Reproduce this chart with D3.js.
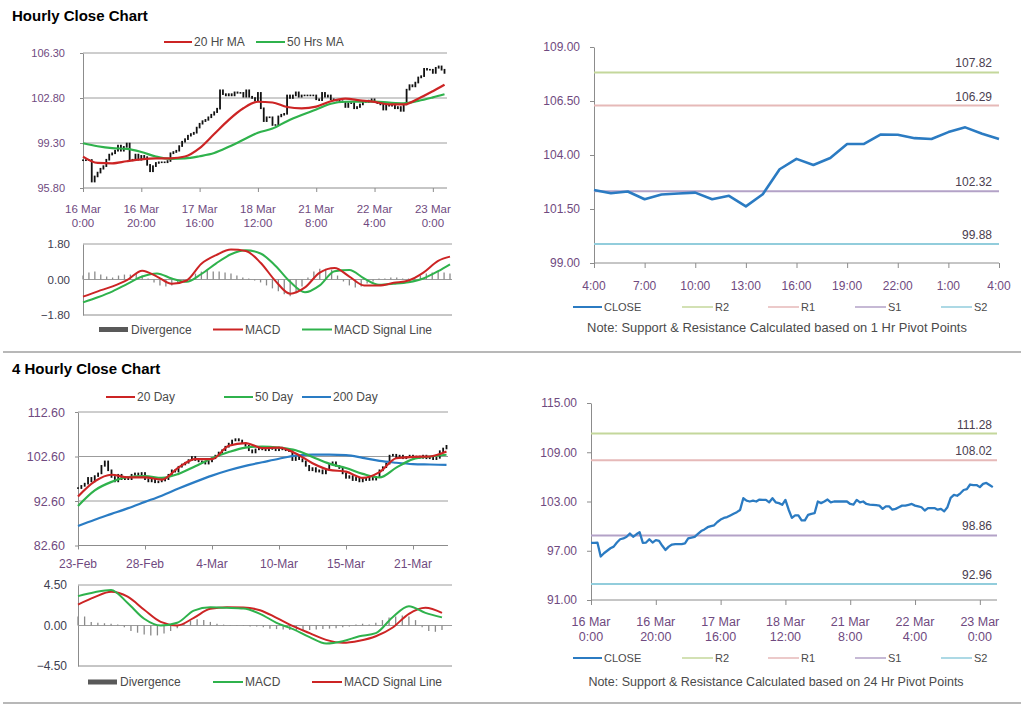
<!DOCTYPE html>
<html><head><meta charset="utf-8">
<script src="https://cdn.jsdelivr.net/npm/d3@7"></script>
<style>body{margin:0;background:#fff;} svg{display:block;font-family:"Liberation Sans",Arial,sans-serif;}</style>
</head><body><svg id="c" width="1024" height="706"></svg>
<script>
// ---------------- DATA ----------------
// Hourly closes, 16 Mar 0:00 -> 23 Mar (125 hourly bars)
const hourlyClose = [
97.96,97.97,97.98,96.3,96.7,97.0,97.3,97.5,98.0,98.4,
98.5,98.7,99.1,98.7,99.0,99.26,97.95,98.0,98.4,98.0,
98.3,98.2,97.6,97.1,97.5,97.75,97.8,97.8,97.8,97.9,
98.5,98.6,98.7,99.06,99.4,99.6,99.87,100.0,100.1,100.5,
100.8,101.0,101.1,101.3,101.5,101.7,101.97,103.4,103.1,103.0,
103.1,103.0,103.24,103.2,103.2,102.9,103.4,102.9,102.8,102.6,
103.2,102.0,101.0,101.3,101.3,100.7,100.7,101.37,101.5,101.57,
103.0,102.8,103.0,103.24,102.9,103.0,103.0,103.0,103.0,103.0,
102.7,102.63,103.2,102.9,103.0,102.7,102.63,102.6,102.55,102.5,
102.1,102.4,102.4,102.0,102.1,102.3,102.5,102.5,102.6,102.7,
102.5,102.4,102.3,101.9,102.2,102.2,102.2,102.0,102.1,101.8,
102.3,103.45,103.8,103.7,104.0,104.4,104.5,105.07,105.0,105.0,
104.75,105.15,105.26,105.0,104.75];
const hourlyTickIdx = [0,20,40,60,80,100,120];
const hourlyTickLabels = ["16 Mar\n0:00","16 Mar\n20:00","17 Mar\n16:00","18 Mar\n12:00","21 Mar\n8:00","22 Mar\n4:00","23 Mar\n0:00"];

const hourlyMaIdx = [0,5,10,15,20,25,30,35,40,45,50,55,60,65,70,75,80,85,90,95,100,105,110,115,120,124];
const ma20Hr = [98.24,97.75,97.72,97.88,98.02,98.1,98.11,98.25,98.9,100.0,101.1,102.0,102.51,102.45,102.1,102.0,102.13,102.55,102.75,102.62,102.5,102.3,102.3,102.75,103.33,103.84];
const ma50Hr = [99.28,99.05,98.9,98.84,98.6,98.25,98.07,98.1,98.27,98.52,99.0,99.55,100.1,100.42,101.0,101.48,101.9,102.35,102.51,102.52,102.52,102.44,102.39,102.58,102.85,103.09];
const hourlyMacd = [-0.87,-0.6,-0.35,-0.02,0.45,0.15,-0.22,-0.05,0.8,1.24,1.52,1.45,0.85,-0.07,-0.72,-0.4,0.35,0.58,0.15,-0.3,-0.3,-0.17,-0.05,0.35,0.95,1.16];
const hourlySignal = [-1.16,-0.9,-0.6,-0.22,0.15,0.31,0.05,-0.12,0.28,0.82,1.28,1.48,1.32,0.7,-0.12,-0.65,-0.3,0.42,0.48,0.05,-0.27,-0.22,-0.14,0.05,0.42,0.77];
// divergence every 2 hourly bars
const hourlyDiv = [0.2,0.35,0.4,0.25,0.15,0.1,0.2,0.25,0.25,0.3,0.2,0.05,-0.15,-0.3,-0.35,-0.3,-0.2,-0.05,0.1,0.3,0.4,0.45,0.4,0.4,0.35,0.3,0.2,0.1,0.05,-0.05,-0.15,-0.3,-0.45,-0.6,-0.75,-0.85,-0.7,-0.35,0.1,0.4,0.55,0.55,0.5,0.2,-0.1,-0.3,-0.4,-0.35,-0.2,-0.1,0.05,0.05,0.1,0.1,0.05,0.05,0.1,0.2,0.3,0.35,0.4,0.35,0.3];

// 1-hour pivot chart
const pivot1Labels = ["4:00","7:00","10:00","13:00","16:00","19:00","22:00","1:00","4:00"];
const pivot1Close = [102.38,102.23,102.31,101.95,102.17,102.22,102.26,101.95,102.11,101.62,102.18,103.34,103.82,103.54,103.86,104.51,104.51,104.95,104.94,104.78,104.74,105.06,105.28,104.98,104.74];
const pivot1Levels = [107.82,106.29,102.32,99.88]; // R2,R1,S1,S2
const levelNames = ["R2","R1","S1","S2"];

// 4-hourly chart (111 bars)
const fourHourClose = [
95.5,96.0,96.5,97.8,97.0,98.2,98.8,100.5,101.5,99.5,
98.0,97.0,98.5,97.5,98.0,97.5,98.5,98.8,98.5,98.9,
97.5,97.0,97.5,96.8,97.0,97.2,97.5,98.5,99.5,99.2,
100.3,100.8,101.2,101.8,102.5,101.8,101.5,101.2,101.0,101.5,
102.2,102.8,103.5,104.0,104.8,105.5,106.2,106.5,106.2,105.6,
105.0,104.0,103.5,104.2,104.5,104.2,104.0,104.5,104.3,104.0,
104.6,104.2,104.0,103.8,101.8,102.5,102.0,101.5,100.5,99.5,
100.0,99.2,99.5,98.8,99.6,100.8,101.3,100.5,100.0,98.8,
97.8,98.2,97.3,97.8,97.0,97.6,97.3,98.0,97.4,98.0,
99.5,100.2,101.0,102.8,103.0,102.4,102.8,102.2,102.5,102.8,
102.4,102.6,102.3,102.8,102.2,102.5,102.0,102.3,103.8,104.4,105.0];
const fourHourTickIdx = [0,20,40,60,80,100];
const fourHourTickLabels = ["23-Feb","28-Feb","4-Mar","10-Mar","15-Mar","21-Mar"];
const fourHourMaIdx = [0,5,10,15,20,25,30,35,40,45,50,55,60,65,70,75,80,85,90,95,100,105,110];
const ma20Day = [93.6,97.0,98.5,97.9,97.9,97.4,100.1,102.0,102.0,105.0,105.6,104.5,104.6,103.3,101.1,99.6,99.2,97.8,99.1,102.2,102.5,102.6,103.7];
const ma50Day = [91.5,95.0,96.9,98.0,98.2,97.8,98.7,100.4,102.2,103.6,104.6,104.85,104.6,104.0,102.5,101.0,100.0,98.7,97.9,100.1,102.0,102.6,103.0];
const ma200Day = [87.0,88.4,89.7,91.0,92.4,93.8,95.4,96.9,98.3,99.5,100.5,101.3,102.1,102.8,103.0,103.0,102.9,102.3,101.6,101.2,100.9,100.8,100.7];
const fourHourMacd = [3.26,3.7,3.95,2.5,0.75,0.0,0.3,1.65,2.02,1.96,1.88,1.3,0.3,-0.4,-1.3,-2.0,-1.75,-1.2,-0.85,0.9,2.15,1.4,0.9];
const fourHourSignal = [2.33,3.15,3.74,3.2,1.75,0.4,0.0,0.85,1.85,2.02,2.0,1.7,0.85,-0.07,-0.85,-1.6,-1.93,-1.7,-1.2,-0.25,1.3,1.96,1.4];
const fourHourDiv = [1.0,1.0,0.4,0.3,0.25,0.2,0.1,-0.2,-0.6,-0.8,-1.0,-1.1,-1.1,-0.9,-0.6,-0.3,0.2,0.5,0.7,0.6,0.4,0.2,0.1,0.05,-0.05,-0.05,-0.1,-0.1,-0.2,-0.35,-0.4,-0.45,-0.5,-0.55,-0.5,-0.5,-0.45,-0.4,-0.35,-0.3,-0.2,-0.1,0.1,0.2,0.1,0.3,0.6,0.9,1.0,1.1,1.0,0.6,-0.2,-0.6,-0.7,-0.5];

// 24-hour pivot chart
const pivot24Levels = [111.28,108.02,98.86,92.96];

// ---------------- STYLE ----------------
const FONT = '"Liberation Sans", Arial, sans-serif';
const AX = "#8c8c8c", GRID = "#9c9c9c";
const TICKC = "#6f4a80", MACDC = "#404050", LEGC = "#4a4a4a";
const RED = "#cc2424", GREEN = "#2fb24c", BLUE = "#2a7cc4", CLOSEC = "#2b7bc2";
const LEVC = ["#c4d79b","#e6b9b8","#b3a2c7","#92cddc"];

const svg = d3.select("#c");

function txt(x,y,s,o={}){
  return svg.append("text").attr("x",x).attr("y",y).text(s)
    .attr("fill",o.fill||LEGC).style("font-size",(o.size||11)+"px").style("font-family",FONT)
    .attr("text-anchor",o.anchor||"start").attr("dominant-baseline",o.db||"central")
    .style("font-weight",o.weight||"normal");
}
function hline(x1,x2,y,stroke,w=1){svg.append("line").attr("x1",x1).attr("x2",x2).attr("y1",y).attr("y2",y).attr("stroke",stroke).attr("stroke-width",w);}
function yAxis(x0,y,ticks,o){
  const ax = d3.axisLeft(y).tickValues(ticks).tickFormat(d3.format(".2f")).tickSizeOuter(0).tickSizeInner(o.tick).tickPadding(o.pad);
  const g = svg.append("g").attr("transform",`translate(${x0},0)`).call(ax);
  g.select(".domain").attr("stroke",AX);
  g.selectAll(".tick line").attr("stroke",AX);
  g.selectAll(".tick text").attr("fill",o.color).style("font-size",o.size+"px").style("font-family",FONT);
  (o.grid||[]).forEach(v=>hline(x0,o.x1,y(v),GRID,1));
}
function xAxis(y0,x,ticks,labels,x1,o){
  const ax = d3.axisBottom(x).tickValues(ticks).tickFormat("").tickSizeOuter(0).tickSizeInner(o.tick);
  const g = svg.append("g").attr("transform",`translate(0,${y0})`).call(ax);
  g.select(".domain").remove();
  g.selectAll(".tick line").attr("stroke",AX);
  hline(x.range()[0],x1,y0,AX,1);
  ticks.forEach((t,i)=>{
    const parts = labels[i].split("\n");
    parts.forEach((p,k)=>txt(x(t),o.base+k*o.gap,p,{anchor:"middle",size:o.size,fill:o.color,db:"auto"}));
  });
}
function legendLine(x1,x2,y,color,label,o={}){
  hline(x1,x2,y,color,o.w||2);
  txt(x2+2,y,label,{size:o.size||12,fill:o.fill||LEGC});
}
function candles(x,y,closes){
  svg.append("g").selectAll("rect").data(closes).join("rect")
    .attr("x",(d,i)=>x(i)-0.9).attr("width",1.8)
    .attr("y",(d,i)=>{const o=i?closes[i-1]:d; return Math.min(y(o),y(d))-0.8;})
    .attr("height",(d,i)=>{const o=i?closes[i-1]:d; return Math.abs(y(o)-y(d))+1.6;})
    .attr("fill","#111");
}
function line(xs,ys,x,y,color,w,curve){
  svg.append("path").datum(xs.map((v,i)=>[v,ys[i]]))
    .attr("d",d3.line().x(d=>x(d[0])).y(d=>y(d[1])).curve(curve||d3.curveLinear))
    .attr("fill","none").attr("stroke",color).attr("stroke-width",w).attr("stroke-linejoin","round");
}
function bars(idx,vals,x,y){
  svg.append("g").selectAll("line").data(vals).join("line")
    .attr("x1",(d,i)=>x(idx[i])).attr("x2",(d,i)=>x(idx[i]))
    .attr("y1",y(0)).attr("y2",d=>y(d)).attr("stroke","#8a8a8a").attr("stroke-width",1.3);
}

// ---------------- TITLES & SEPARATORS ----------------
txt(12,21,"Hourly Close Chart",{size:15,weight:"bold",fill:"#000",db:"auto"});
txt(12,374,"4 Hourly Close Chart",{size:15,weight:"bold",fill:"#000",db:"auto"});
hline(3,1021,352,"#a0a0a0",1.5);
hline(3,1021,703,"#a0a0a0",1.5);

// ---------------- HOURLY PRICE (top-left) ----------------
{
  const x = d3.scaleLinear().domain([0,124]).range([83,444.5]);
  const y = d3.scaleLinear().domain([95.8,106.3]).range([188,53]);
  yAxis(83,y,[95.8,99.3,102.8,106.3],{tick:3,pad:15,size:11,color:TICKC,grid:[99.3,102.8,106.3],x1:447});
  xAxis(188,x,hourlyTickIdx,hourlyTickLabels,447,{tick:4,base:213,gap:13.5,size:11.5,color:TICKC});
  candles(x,y,hourlyClose);
  line(hourlyMaIdx,ma50Hr,x,y,GREEN,2.2,d3.curveMonotoneX);
  line(hourlyMaIdx,ma20Hr,x,y,RED,2.2,d3.curveMonotoneX);
  legendLine(164,192,42,RED,"20 Hr MA");
  legendLine(256,285,42,GREEN,"50 Hrs MA");
}
// ---------------- HOURLY MACD ----------------
{
  const x = d3.scaleLinear().domain([0,124]).range([83,450]);
  const y = d3.scaleLinear().domain([-1.8,1.8]).range([315,244]);
  yAxis(83,y,[-1.8,0,1.8],{tick:0,pad:13,size:11.5,color:MACDC,grid:[0,1.8],x1:452});
  hline(83,452,315,AX,1);
  bars(hourlyDiv.map((d,i)=>i*2),hourlyDiv,x,y);
  line(hourlyMaIdx,hourlySignal,x,y,GREEN,2,d3.curveMonotoneX);
  line(hourlyMaIdx,hourlyMacd,x,y,RED,2,d3.curveMonotoneX);
  svg.append("rect").attr("x",99).attr("y",327).attr("width",29).attr("height",5).attr("fill","#595959");
  txt(131,329.5,"Divergence",{size:12});
  legendLine(213,243,329.5,RED,"MACD");
  legendLine(302,332,329.5,GREEN,"MACD Signal Line");
}
// ---------------- 1 HR PIVOT (top-right) ----------------
{
  const x = d3.scaleLinear().domain([0,24]).range([594,999]);
  const y = d3.scaleLinear().domain([99,109]).range([263,47]);
  yAxis(594,y,[99,101.5,104,106.5,109],{tick:4,pad:10,size:12,color:TICKC});
  xAxis(263,x,d3.range(0,25,3),pivot1Labels,999,{tick:5,base:290,gap:14,size:12,color:TICKC});
  pivot1Levels.forEach((v,i)=>{
    hline(594,999,y(v),LEVC[i],2);
    txt(992,y(v)-5,v.toFixed(2),{anchor:"end",size:12,fill:"#4a4050",db:"auto"});
  });
  line(d3.range(pivot1Close.length),pivot1Close,x,y,CLOSEC,2.6);
  legendLine(573,602,307,CLOSEC,"CLOSE",{size:11,w:2});
  [682,768,855,941].forEach((lx,i)=>legendLine(lx,lx+31,307,LEVC[i],levelNames[i],{size:11,w:1.5}));
  txt(777,327,"Note: Support & Resistance Calculated based on 1 Hr Pivot Points",{anchor:"middle",size:12.9});
}
// ---------------- 4 HOURLY PRICE (bottom-left) ----------------
{
  const x = d3.scaleLinear().domain([0,110]).range([78,446.5]);
  const y = d3.scaleLinear().domain([82.6,112.6]).range([545.5,412]);
  yAxis(78,y,[82.6,92.6,102.6,112.6],{tick:3,pad:10,size:12.5,color:TICKC,grid:[92.6,102.6,112.6],x1:448});
  xAxis(545.5,x,fourHourTickIdx,fourHourTickLabels,448,{tick:4,base:568,gap:14,size:12,color:TICKC});
  candles(x,y,fourHourClose);
  line(fourHourMaIdx,ma200Day,x,y,BLUE,2.2,d3.curveMonotoneX);
  line(fourHourMaIdx,ma50Day,x,y,GREEN,2.2,d3.curveMonotoneX);
  line(fourHourMaIdx,ma20Day,x,y,RED,2.2,d3.curveMonotoneX);
  legendLine(106,135,397,RED,"20 Day");
  legendLine(224,253,397,GREEN,"50 Day");
  legendLine(302,331,397,BLUE,"200 Day");
}
// ---------------- 4 HOURLY MACD ----------------
{
  const x = d3.scaleLinear().domain([0,110]).range([78,442]);
  const y = d3.scaleLinear().domain([-4.5,4.5]).range([666,585]);
  yAxis(78,y,[-4.5,0,4.5],{tick:0,pad:11,size:12,color:MACDC,grid:[0,4.5],x1:452});
  hline(78,452,666,AX,1);
  bars(fourHourDiv.map((d,i)=>i*2),fourHourDiv,x,y);
  line(fourHourMaIdx,fourHourSignal,x,y,RED,2,d3.curveMonotoneX);
  line(fourHourMaIdx,fourHourMacd,x,y,GREEN,2,d3.curveMonotoneX);
  svg.append("rect").attr("x",88).attr("y",679.5).attr("width",29).attr("height",5).attr("fill","#595959");
  txt(120,682,"Divergence",{size:12});
  legendLine(213,243,682,GREEN,"MACD");
  legendLine(312,342,682,RED,"MACD Signal Line");
}
// ---------------- 24 HR PIVOT (bottom-right) ----------------
{
  const x = d3.scaleLinear().domain([0,124]).range([591,992.8]);
  const y = d3.scaleLinear().domain([91,115]).range([600,403]);
  yAxis(591,y,[91,97,103,109,115],{tick:4,pad:10,size:12,color:TICKC});
  xAxis(600,x,hourlyTickIdx,hourlyTickLabels,997,{tick:5,base:626,gap:15,size:12.5,color:TICKC});
  pivot24Levels.forEach((v,i)=>{
    hline(591,997,y(v),LEVC[i],2);
    txt(992,y(v)-5,v.toFixed(2),{anchor:"end",size:12,fill:"#4a4050",db:"auto"});
  });
  line(d3.range(hourlyClose.length),hourlyClose,x,y,CLOSEC,2.3);
  legendLine(573,602,658,CLOSEC,"CLOSE",{size:11,w:2});
  [682,768,855,941].forEach((lx,i)=>legendLine(lx,lx+31,658,LEVC[i],levelNames[i],{size:11,w:1.5}));
  txt(776,682,"Note:  Support & Resistance Calculated based on 24 Hr Pivot Points",{anchor:"middle",size:12.5});
}
</script></body></html>
